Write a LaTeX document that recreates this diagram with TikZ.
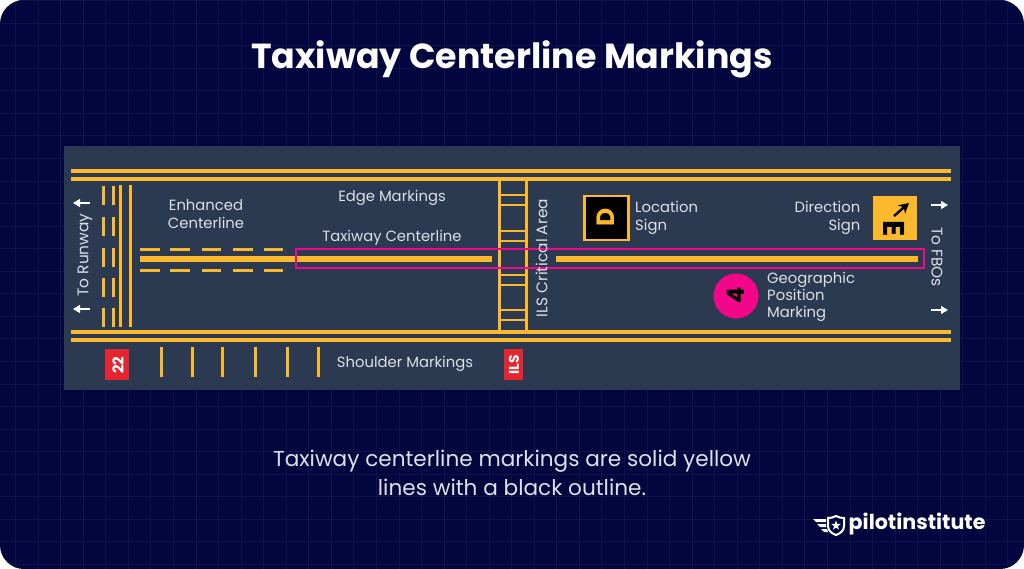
\documentclass[tikz,border=0pt]{standalone}
\usepackage{fontspec}
\setmainfont{Poppins}
\usetikzlibrary{arrows.meta,shapes.geometric}
\definecolor{bgnavy}{HTML}{03053F}
\definecolor{gridc}{HTML}{0F1249}
\definecolor{panelc}{HTML}{2B3A50}
\definecolor{yel}{HTML}{FDB92E}
\definecolor{pinkc}{HTML}{F4068A}
\definecolor{redc}{HTML}{E4252F}
\definecolor{labelc}{HTML}{DDE0E6}
\tikzset{
  x=1pt,y=-1pt,
  edge/.style={draw=yel,line width=3.3pt},
  thinmark/.style={draw=yel,line width=3pt},
  center/.style={draw=yel,line width=5.2pt},
  lab/.style={text=labelc,font=\fontsize{14.8}{18}\selectfont,inner sep=0pt,align=center},
  rotlab/.style={text=labelc,font=\fontsize{15.4}{18}\selectfont,inner sep=0pt,align=center},
  arr/.style={draw=white,line width=1.1pt,-{Triangle[length=7pt,width=8pt]}}
}
\begin{document}
\begin{tikzpicture}
\useasboundingbox (0,0) rectangle (1024,569);
\fill[white] (0,0) rectangle (1024,569);
\fill[bgnavy,rounded corners=24pt] (0,0) rectangle (1024,569);
\begin{scope}
\clip[rounded corners=24pt] (0,0) rectangle (1024,569);
\foreach \i in {0,...,45}{\draw[gridc,line width=.7pt] ({15.5+22.55*\i},0) -- ++(0,569);}
\foreach \i in {0,...,25}{\draw[gridc,line width=.7pt] (0,{0.5+22.55*\i}) -- ++(1024,0);}
\end{scope}
\node[text=white,font=\fontsize{34.8}{38}\selectfont\bfseries,inner sep=0pt] (title) at (512,59) {Taxiway Centerline Markings};
\fill[panelc] (64,146) rectangle (960,390);
% edges
\foreach \y in {171,179,332,340}{\draw[edge] (71,\y) -- (951,\y);}
% holding position marking
\foreach \a/\b in {186/205,217/236,248/267,278/297,308/327}{
  \draw[thinmark] (103,\a) -- (103,\b);
  \draw[thinmark] (113,\a) -- (113,\b);
}
\draw[thinmark] (120.5,185) -- (120.5,327);
\draw[thinmark] (130,185) -- (130,327);
% enhanced centerline
\draw[center] (140,259) -- (492,259);
\draw[center] (556,259) -- (918,259);
\foreach \a/\b in {140/160,170/190,202/221,233/253,264/283}{
  \draw[thinmark] (\a,249) -- (\b,249);
  \draw[thinmark] (\a,270) -- (\b,270);
}
% shoulder
\foreach \x in {161,192,222,255,287,318}{\draw[thinmark] (\x,347) -- (\x,377);}
% ILS
\draw[thinmark] (499.5,179) -- (499.5,332);
\draw[thinmark] (526,179) -- (526,332);
\foreach \y in {195,205,231,241,275,285,310,320}{\draw[thinmark,line width=2.8pt] (499.5,\y) -- (526,\y);}
% magenta rect
\draw[pinkc,line width=2.6pt] (296,249) rectangle (924,268);
% red signs
\fill[redc] (105,349) rectangle (129,380);
\node[text=white,font=\fontsize{15}{15}\selectfont\bfseries,inner sep=0pt,rotate=90] (s22) at (118,365) {22};
\fill[redc] (504,349) rectangle (523,380);
\node[text=white,font=\fontsize{14}{14}\selectfont\bfseries,inner sep=0pt,rotate=90] (sils) at (514,365) {ILS};
% labels
\node[lab] (enh) at (206,214.5) {Enhanced\\Centerline};
\node[lab] (edgem) at (392,198) {Edge Markings};
\node[lab] (twc) at (392,238) {Taxiway Centerline};
\node[lab] (shm) at (405,364) {Shoulder Markings};
\node[rotlab,rotate=90] (ils) at (541.5,258) {ILS Critical Area};
\node[rotlab,rotate=90] (rwy) at (85,255) {To Runway};
\node[rotlab,rotate=-90] (fbo) at (937,257) {To FBOs};
\node[lab,align=left,anchor=west] (loc) at (635,218) {Location\\Sign};
\node[lab,align=right,anchor=east] (dir) at (860.5,218) {Direction\\Sign};
\node[lab,align=left,anchor=west,font=\fontsize{14.8}{17}\selectfont] (geo) at (767,297) {Geographic\\Position\\Marking};
% arrows
\coordinate (a1s) at (90,203); \coordinate (a1e) at (73,203);
\coordinate (a2s) at (90,309); \coordinate (a2e) at (73,309);
\coordinate (a3s) at (931,205); \coordinate (a3e) at (948,205);
\coordinate (a4s) at (931,310); \coordinate (a4e) at (948,310);
\draw[arr] (a1s) -- (a1e);
\draw[arr] (a2s) -- (a2e);
\draw[arr] (a3s) -- (a3e);
\draw[arr] (a4s) -- (a4e);
% location sign
\node[draw=yel,fill=black,line width=2.2pt,minimum size=44pt,inner sep=0pt] (locs) at (606.5,218) {};
\node[text=yel,font=\fontsize{25}{25}\selectfont\bfseries,inner sep=0pt] (locD) at (606,217) {\rotatebox{90}{D}};
% direction sign
\node[fill=yel,minimum size=44pt,inner sep=0pt] (dirs) at (895,218) {};
\node[text=black,font=\fontsize{30}{30}\selectfont\bfseries,inner sep=0pt] (dirE) at (894,229) {\rotatebox{-90}{E}};
\coordinate (da) at (894,216); \coordinate (db) at (909,203);
\draw[black,line width=2.4pt,-{Stealth[length=10pt,width=11pt]}] (da) -- (db);
% position
\node[circle,fill=pinkc,minimum size=45pt,inner sep=0pt] (pos) at (736,296) {};
\node[text=black,font=\fontsize{24}{24}\selectfont\bfseries,inner sep=0pt] (pos4) at (736,295) {\rotatebox{90}{4}};
% caption
\node[text=labelc,font=\fontsize{21.6}{29}\selectfont,align=center,inner sep=0pt] (cap) at (512,473) {Taxiway centerline markings are solid yellow\\lines with a black outline.};
% logo
\node[text=white,font=\fontsize{20.6}{21}\selectfont\bfseries,inner sep=0pt,anchor=west] (logo) at (848.5,524) {pilotinstitute};
\fill[white] (813,519) -- (826,519) -- (826,522) -- (816,522) -- cycle;
\fill[white] (817,524) -- (826,524) -- (826,527) -- (820,527) -- cycle;
\fill[white] (821,529) -- (827,529) -- (828,532) -- (824,532) -- cycle;
\filldraw[fill=bgnavy,draw=white,line width=2pt] (836,516) .. controls (839,517.5) and (841,518) .. (844,518) -- (844,526) .. controls (844,531) and (840,533.5) .. (836,535) .. controls (832,533.5) and (828,531) .. (828,526) -- (828,518) .. controls (831,518) and (833,517.5) .. (836,516) -- cycle;
\node[star,star points=5,star point ratio=2.4,fill=white,minimum size=10pt,inner sep=0pt] (logostar) at (836,525.5) {};
\end{tikzpicture}
\end{document}
